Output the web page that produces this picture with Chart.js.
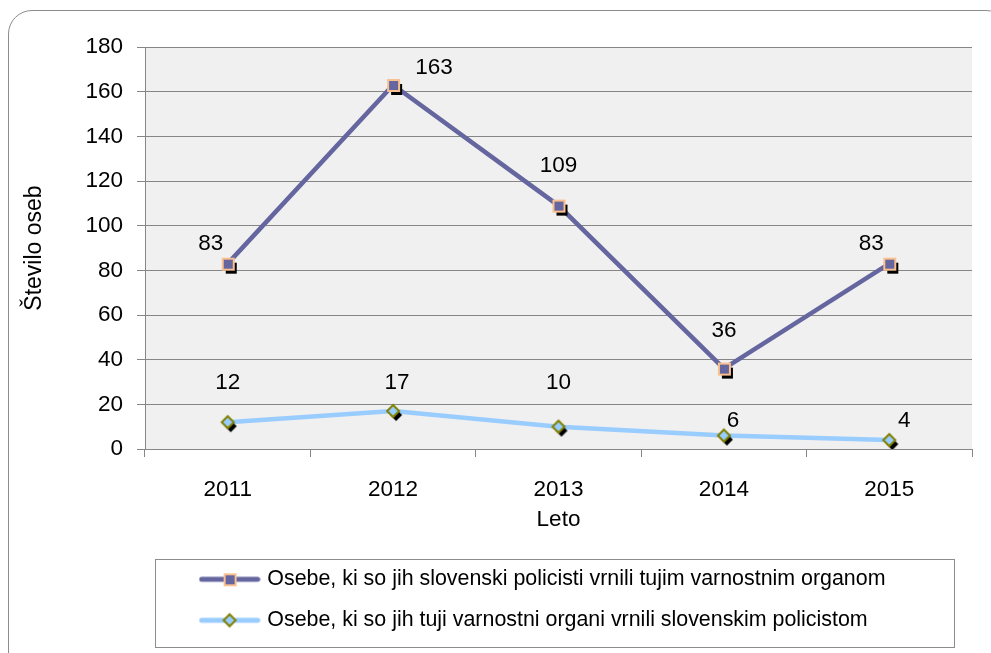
<!DOCTYPE html>
<html>
<head>
<meta charset="utf-8">
<script src="https://cdn.jsdelivr.net/npm/chart.js@4/dist/chart.umd.min.js"></script>
<style>
html, body { margin: 0; padding: 0; background: #fff; overflow: hidden; }
#wrap { position: relative; width: 991px; height: 653px; }
#frame { position: absolute; left: 8px; top: 10px; width: 1000px; height: 700px; border: 1px solid #8c8c8c; border-radius: 24px; }
#chart { position: absolute; left: 0; top: 0; }
</style>
</head>
<body>
<div id="wrap">
  <div id="frame"></div>
  <canvas id="chart" width="991" height="653"></canvas>
</div>
<script>
"use strict";

// Podatki
const years = ['2011', '2012', '2013', '2014', '2015'];
const returnedBySlovenian = [83, 163, 109, 36, 83];
const returnedByForeign = [12, 17, 10, 6, 4];
const seriesNames = [
    'Osebe, ki so jih slovenski policisti vrnili tujim varnostnim organom',
    'Osebe, ki so jih tuji varnostni organi vrnili slovenskim policistom'
];
const yMin = 0;
const yMax = 180;
const yStep = 20;

const FONT = '"Liberation Sans", Arial, sans-serif';
const purple = '#65659f';
const lightBlue = '#99ccff';

// Markerji (s senco kot v Excelu)
function squareMarker(shadow) {
    const c = document.createElement('canvas');
    c.width = 24; c.height = 24;
    const g = c.getContext('2d');
    if (shadow) {
        g.fillStyle = '#000';
        g.fillRect(10, 11, 11, 11);
    }
    g.fillStyle = purple;
    g.fillRect(7, 7, 11, 11);
    g.strokeStyle = '#fac08f';
    g.lineWidth = 2;
    g.strokeRect(7, 7, 11, 11);
    return c;
}

function diamondMarker(shadow) {
    const c = document.createElement('canvas');
    c.width = 26; c.height = 26;
    const g = c.getContext('2d');
    const d = (cx, cy) => {
        g.beginPath();
        g.moveTo(cx, cy - 6);
        g.lineTo(cx + 6, cy);
        g.lineTo(cx, cy + 6);
        g.lineTo(cx - 6, cy);
        g.closePath();
    };
    if (shadow) {
        d(16, 17);
        g.fillStyle = '#000';
        g.fill();
    }
    d(13, 13);
    g.fillStyle = lightBlue;
    g.fill();
    g.strokeStyle = '#808000';
    g.lineWidth = 2;
    g.stroke();
    return c;
}

function legendIcon(color, marker) {
    const c = document.createElement('canvas');
    c.width = 62; c.height = 26;
    const g = c.getContext('2d');
    g.strokeStyle = color;
    g.lineWidth = 5;
    g.lineCap = 'round';
    g.beginPath();
    g.moveTo(3, 13);
    g.lineTo(59, 13);
    g.stroke();
    g.drawImage(marker, 31 - marker.width / 2, 13 - marker.height / 2);
    return c;
}

const legendIcons = [
    legendIcon(purple, squareMarker(false)),
    legendIcon(lightBlue, diamondMarker(false))
];

const plotBackground = {
    id: 'plotBackground',
    beforeDraw(chart) {
        const a = chart.chartArea;
        chart.ctx.save();
        chart.ctx.fillStyle = '#f0f0f0';
        chart.ctx.fillRect(a.left, a.top, a.right - a.left, a.bottom - a.top);
        chart.ctx.restore();
    }
};

const pointLabels = {
    id: 'pointLabels',
    afterDatasetsDraw(chart, args, opts) {
        const ctx = chart.ctx;
        ctx.save();
        ctx.font = '22.5px ' + FONT;
        ctx.fillStyle = '#000';
        ctx.textAlign = 'center';
        ctx.textBaseline = 'middle';
        chart.data.datasets.forEach((ds, i) => {
            chart.getDatasetMeta(i).data.forEach((pt, j) => {
                const off = opts.offsets[i][j];
                ctx.fillText(String(ds.data[j]), pt.x + off[0], pt.y + off[1]);
            });
        });
        ctx.restore();
    }
};

// Legenda: levo poravnana znotraj okvirja
const legendBox = {
    id: 'legendBox',
    afterLayout(chart) {
        chart.legend.left = chart.chartArea.left + 38;
    },
    afterDraw(chart) {
        const a = chart.chartArea;
        const l = chart.legend;
        const ctx = chart.ctx;
        ctx.save();
        ctx.strokeStyle = '#8c8c8c';
        ctx.lineWidth = 1;
        ctx.strokeRect(a.left + 10.5, l.top + 10.5, a.right - a.left - 28, l.bottom - l.top - 4);
        ctx.restore();
    }
};

new Chart(document.getElementById('chart'), {
    type: 'line',
    data: {
        labels: years,
        datasets: [{
            label: seriesNames[0],
            data: returnedBySlovenian,
            borderColor: purple,
            borderWidth: 4.5,
            pointStyle: squareMarker(true),
            tension: 0
        }, {
            label: seriesNames[1],
            data: returnedByForeign,
            borderColor: lightBlue,
            borderWidth: 4.5,
            pointStyle: diamondMarker(true),
            tension: 0
        }]
    },
    options: {
        responsive: false,
        animation: false,
        events: [],
        layout: { padding: { left: 21, top: 47, right: 19, bottom: 12 } },
        scales: {
            x: {
                offset: true,
                afterFit: s => { s.height = 100; },
                grid: { offset: true, drawOnChartArea: false, tickLength: 8, color: '#868686' },
                border: { color: '#868686' },
                ticks: { color: '#000', padding: 19, font: { family: FONT, size: 22.5 } },
                title: { display: true, text: 'Leto', color: '#000', padding: { top: 0, bottom: 16 }, font: { family: FONT, size: 22.5 } }
            },
            y: {
                min: yMin,
                max: yMax,
                afterFit: s => { s.width = 124; },
                grid: { color: '#868686', tickLength: 8 },
                border: { color: '#868686' },
                ticks: { stepSize: yStep, color: '#000', padding: 14, font: { family: FONT, size: 22.5 } },
                title: { display: true, text: 'Število oseb', color: '#000', padding: 0, font: { family: FONT, size: 23 } }
            }
        },
        plugins: {
            tooltip: { enabled: false },
            legend: {
                position: 'bottom',
                align: 'start',
                labels: {
                    usePointStyle: true,
                    pointStyleWidth: 54,
                    padding: 19.6,
                    color: '#000',
                    font: { family: FONT, size: 21.4 },
                    generateLabels: chart => chart.data.datasets.map((ds, i) => ({
                        text: ds.label,
                        pointStyle: legendIcons[i],
                        datasetIndex: i,
                        hidden: false,
                        lineWidth: 0
                    }))
                }
            },
            pointLabels: {
                offsets: [
                    [[-17, -20], [41, -17], [0, -40], [0, -38], [-18, -20]],
                    [[0, -39], [4, -28], [0, -44], [9, -15], [15, -19]]
                ]
            }
        }
    },
    plugins: [plotBackground, pointLabels, legendBox]
});
</script>
</body>
</html>
